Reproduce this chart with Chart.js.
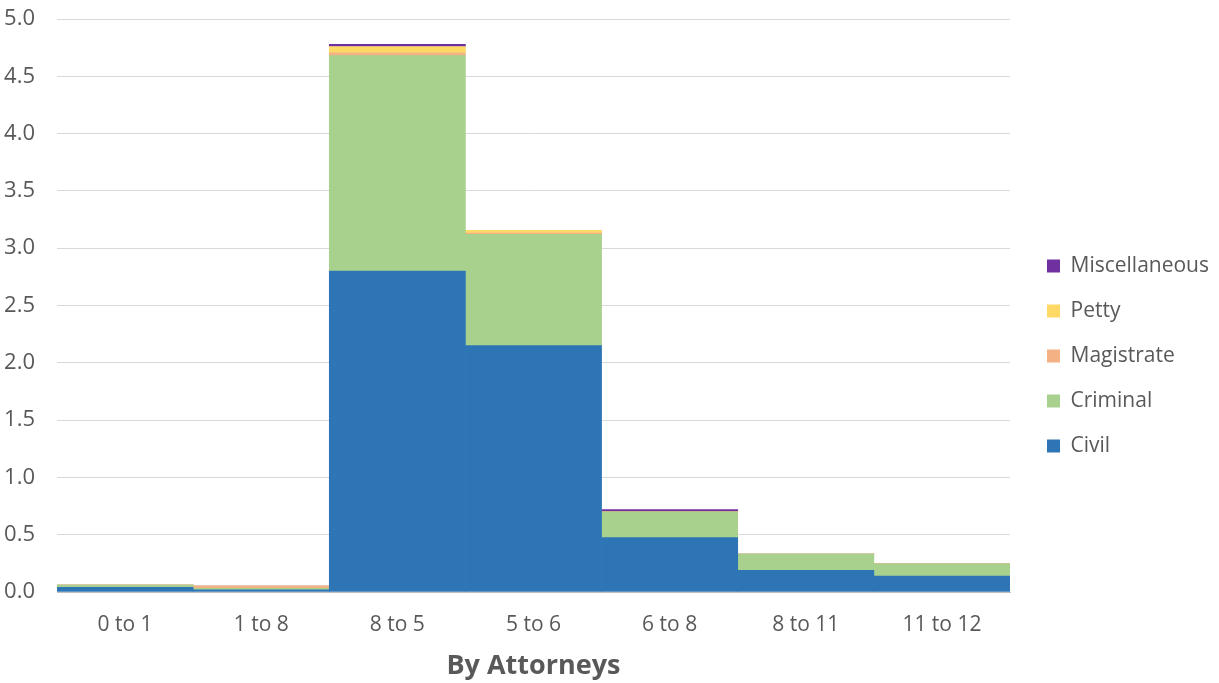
<!DOCTYPE html>
<html lang="en">
  <head>
    <meta charset="UTF-8" />
    <title>By Attorneys</title>
    <script src="https://cdn.jsdelivr.net/npm/chart.js"></script>
    <style>
      body { margin: 0; background: #fff; }
      #wrap { width: 1219px; height: 683px; }
    </style>
  </head>
  <body>
    <div id="wrap"><canvas id="chart" width="1219" height="683"></canvas></div>

    <script>
      const categories = ["0 to 1", "1 to 8", "8 to 5", "5 to 6", "6 to 8", "8 to 11", "11 to 12"];
      const civil = [0.04, 0.02, 2.8, 2.15, 0.475, 0.19, 0.14];
      const criminal = [0.02, 0.012, 1.88, 0.97, 0.225, 0.14, 0.105];
      const magistrate = [0, 0.02, 0.025, 0.012, 0, 0, 0];
      const petty = [0, 0, 0.055, 0.025, 0, 0, 0];
      const miscellaneous = [0, 0, 0.02, 0, 0.02, 0, 0];
      const yTicks = [0, 0.5, 1, 1.5, 2, 2.5, 3, 3.5, 4, 4.5, 5];

      const grey = "#595959";
      const font = "'Open Sans', 'Liberation Sans', sans-serif";

      function ds(label, data, color) {
        return {
          label: label,
          data: data,
          backgroundColor: color,
          borderWidth: 0,
          barPercentage: 1,
          categoryPercentage: 1,
        };
      }

      // fixed legend column on the right, nudged like the original
      const legendBox = {
        id: "legendBox",
        beforeInit: function (chart) {
          const fit = chart.legend.fit;
          chart.legend.fit = function () {
            fit.bind(chart.legend)();
            this.width = 209;
          };
        },
        afterLayout: function (chart) {
          const lg = chart.legend;
          lg.left += 13;
          lg.right += 13;
          lg.top += 5;
          lg.bottom += 5;
        },
      };

      new Chart(document.getElementById("chart"), {
        type: "bar",
        data: {
          labels: categories,
          datasets: [
            ds("Civil", civil, "#2e75b6"),
            ds("Criminal", criminal, "#a9d18e"),
            ds("Magistrate", magistrate, "#f4b183"),
            ds("Petty", petty, "#ffd966"),
            ds("Miscellaneous", miscellaneous, "#7030a0"),
          ],
        },
        plugins: [legendBox],
        options: {
          responsive: false,
          animation: false,
          layout: { padding: { top: 19, right: 0, left: 0, bottom: 0 } },
          plugins: {
            tooltip: { enabled: false },
            legend: {
              position: "right",
              reverse: true,
              labels: {
                boxWidth: 13,
                boxHeight: 13,
                padding: 24,
                color: grey,
                font: { family: font, size: 21 },
              },
            },
          },
          scales: {
            x: {
              stacked: true,
              afterFit: function (scale) {
                scale.height = 91;
                scale.paddingLeft = 0;
                scale.paddingRight = 0;
              },
              grid: { display: false, drawTicks: false },
              border: { display: true, color: "#bfbfbf", width: 1 },
              ticks: { color: grey, font: { family: font, size: 21 }, padding: 20 },
              title: {
                display: true,
                text: "By Attorneys",
                color: grey,
                font: { family: font, size: 27, weight: "bold" },
                padding: { top: 0, bottom: 0 },
              },
            },
            y: {
              stacked: true,
              min: 0,
              max: 5,
              afterBuildTicks: function (axis) {
                axis.ticks = yTicks.map(function (v) { return { value: v }; });
              },
              afterFit: function (scale) {
                scale.width = 57;
                scale.paddingTop = 0;
                scale.paddingBottom = 0;
              },
              grid: { color: "#d9d9d9", drawTicks: false },
              border: { display: false },
              ticks: {
                color: grey,
                font: { family: font, size: 22 },
                padding: 22,
                callback: function (v) { return Number(v).toFixed(1); },
              },
            },
          },
        },
      });
    </script>
  </body>
</html>
